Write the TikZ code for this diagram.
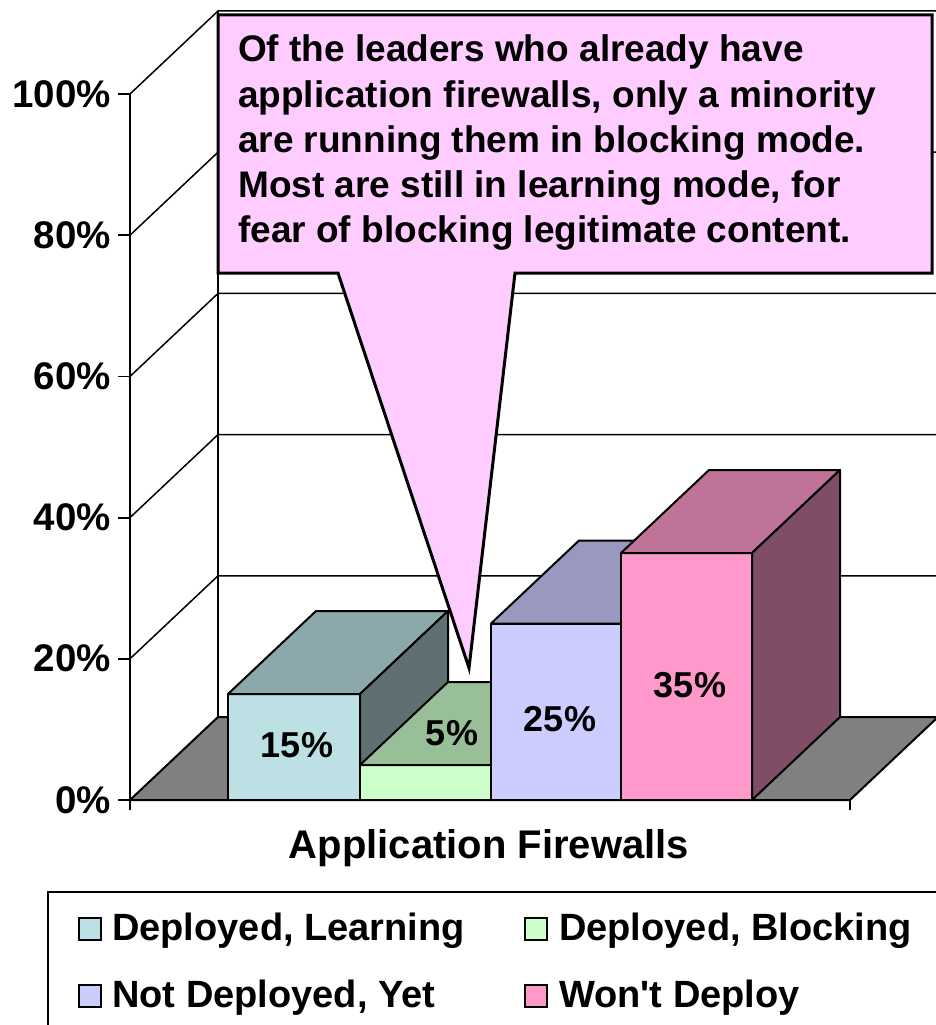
\documentclass[tikz,border=0pt]{standalone}
\usepackage{fontspec}
\setmainfont{Liberation Sans}
\usetikzlibrary{calc}

\definecolor{learnF}{HTML}{BCE0E3}
\definecolor{learnT}{HTML}{8DA8AA}
\definecolor{learnS}{HTML}{5E7072}
\definecolor{blockF}{HTML}{CCFFCC}
\definecolor{blockT}{HTML}{99BF99}
\definecolor{blockS}{HTML}{668066}
\definecolor{yetF}{HTML}{CCCCFF}
\definecolor{yetT}{HTML}{9999BF}
\definecolor{yetS}{HTML}{666680}
\definecolor{wontF}{HTML}{FF99CC}
\definecolor{wontT}{HTML}{BF7399}
\definecolor{wontS}{HTML}{804D66}
\definecolor{floorgray}{HTML}{808080}
\definecolor{notefill}{HTML}{FFCCFF}

\tikzset{
  gridln/.style={line width=1.5pt, draw=black},
  axisln/.style={line width=1.8pt, draw=black},
  face/.style={draw=black, line width=2pt, line join=round},
  txt/.style={inner sep=0pt, font=\bfseries\fontsize{37}{44}\selectfont},
  ticklbl/.style={inner sep=0pt, anchor=base east, font=\bfseries\fontsize{38.5}{44}\selectfont},
  datalbl/.style={inner sep=0pt, anchor=base, font=\bfseries\fontsize{36}{42}\selectfont},
  noteln/.style={txt, anchor=base west},
  legtxt/.style={inner sep=0pt, anchor=base west, font=\bfseries\fontsize{38}{44}\selectfont},
  legkey/.style={draw=black, line width=1.5pt},
  callout/.style={draw=black, line width=3pt, fill=notefill, line join=miter}
}

% one 3-D column: front, top and right side faces
% #1 left x, #2 right x, #3 top y, #4 front, #5 top, #6 side colour
\newcommand{\columnbox}[6]{%
  \filldraw[face, fill=#4] (#1,800) -- (#2,800) -- (#2,#3) -- (#1,#3) -- cycle;
  \filldraw[face, fill=#5] (#1,#3) -- (#2,#3) -- ($(#2,#3)+(88,-83)$) -- ($(#1,#3)+(88,-83)$) -- cycle;
  \filldraw[face, fill=#6] (#2,800) -- (#2+88,717) -- ($(#2,#3)+(88,-83)$) -- (#2,#3) -- cycle;
}

\begin{document}
\begin{tikzpicture}[x=1pt,y=-1pt]
\useasboundingbox (0,0) rectangle (936,1025);
\clip (0,0) rectangle (936,1025);

% back wall: gridlines and their links to the value axis
\foreach \k in {1,...,5} {
  \draw[gridln] (130,800-141.2*\k) -- (218,717-141.2*\k) -- (940,717-141.2*\k);
}
\draw[gridln] (218,717) -- (218,11.8);

% floor
\filldraw[face, fill=floorgray] (130,800) -- (850,800) -- (938,717) -- (218,717) -- cycle;

% columns, drawn left to right
\columnbox{228}{360}{694}{learnF}{learnT}{learnS}
\columnbox{360}{491}{765}{blockF}{blockT}{blockS}
\columnbox{491}{621}{623.5}{yetF}{yetT}{yetS}
\columnbox{621}{752}{553}{wontF}{wontT}{wontS}

% axes and tick marks
\draw[axisln] (130,94) -- (130,810);
\draw[axisln] (130,800) -- (850,800) -- (850,810);
\foreach \k in {0,...,5} {
  \draw[axisln] (118,800-141.2*\k) -- (130,800-141.2*\k);
}

% value axis labels
\node[ticklbl] (v0)   at (111,813) {0\%};
\node[ticklbl] (v20)  at (111,671.8) {20\%};
\node[ticklbl] (v40)  at (111,530.6) {40\%};
\node[ticklbl] (v60)  at (111,389.4) {60\%};
\node[ticklbl] (v80)  at (111,248.2) {80\%};
\node[ticklbl] (v100) at (111,107) {100\%};

% data labels
\node[datalbl] (d1) at (297,757) {15\%};
\node[datalbl] (d2) at (452,745) {5\%};
\node[datalbl] (d3) at (560,731) {25\%};
\node[datalbl] (d4) at (690,697) {35\%};

% category axis title
\node[inner sep=0pt, anchor=base, font=\bfseries\fontsize{40}{48}\selectfont] (cat) at (489,858) {Application Firewalls};

% legend
\draw[line width=1.5pt] (48,892) rectangle (945,1040);
\draw[legkey, fill=learnF] (79,918) rectangle (101,940);
\draw[legkey, fill=blockF] (525,918) rectangle (547,940);
\draw[legkey, fill=yetF]   (79,985) rectangle (101,1007);
\draw[legkey, fill=wontF]  (525,985) rectangle (547,1007);
\node[legtxt] (l1) at (112,940)  {Deployed, Learning};
\node[legtxt] (l2) at (559,940)  {Deployed, Blocking};
\node[legtxt] (l3) at (112,1007) {Not Deployed, Yet};
\node[legtxt] (l4) at (559,1007) {Won\textquotesingle t Deploy};

% callout with pointer
\draw[callout] (218,15) -- (932,15) -- (932,273) -- (515,273) -- (469,668) -- (338,273) -- (218,273) -- cycle;
\node[noteln] (n1) at (238,62)  {Of the leaders who already have};
\node[noteln] (n2) at (238,107) {application firewalls, only a minority};
\node[noteln] (n3) at (238,152) {are running them in blocking mode.};
\node[noteln] (n4) at (238,197) {Most are still in learning mode, for};
\node[noteln] (n5) at (238,242) {fear of blocking legitimate content.};
\end{tikzpicture}
\end{document}
